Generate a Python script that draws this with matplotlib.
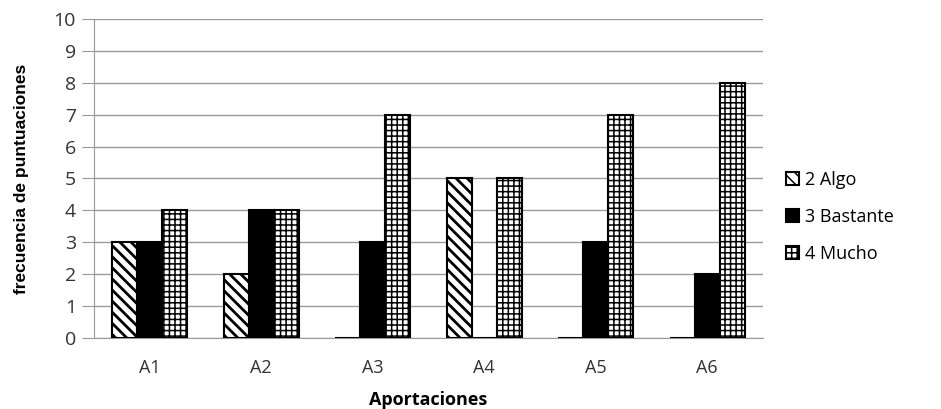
import numpy as np
import matplotlib
matplotlib.use("Agg")
import matplotlib.pyplot as plt

categorias = ["A1", "A2", "A3", "A4", "A5", "A6"]
algo = [3, 2, 0, 5, 0, 0]
bastante = [3, 4, 3, 0, 3, 2]
mucho = [4, 4, 7, 5, 7, 8]
series = ["2 Algo", "3 Bastante", "4 Mucho"]

plt.rcParams['font.family'] = ['Open Sans', 'DejaVu Sans']

fig = plt.figure(figsize=(9.41, 4.09), dpi=100)
ax = fig.add_axes([0.0999, 0.1736, 0.711, 0.78])

x = np.arange(len(categorias))
w = 0.224
plt.rcParams['hatch.linewidth'] = 2.0
ax.bar(x - w, algo, w, color="white", edgecolor="black", hatch="\\\\\\", linewidth=1.5, label=series[0], zorder=3)
ax.bar(x, bastante, w, color="black", edgecolor="black", linewidth=1.5, label=series[1], zorder=3)
plt.rcParams['hatch.linewidth'] = 1.1
ax.bar(x + w, mucho, w, color="white", edgecolor="black", hatch="+++", linewidth=1.5, label=series[2], zorder=3)

ax.set_xlim(-0.5, len(categorias) - 0.5)
ax.set_ylim(0, 10)
ax.set_yticks(range(0, 11))
ax.set_xticks(x)
ax.set_xticklabels(categorias)
ax.tick_params(axis="x", length=0, labelsize=13, pad=15, colors="#333333")
ax.tick_params(axis="y", length=9, color="#999999", labelsize=14, pad=4, labelcolor="#333333")
ax.yaxis.grid(True, color="#999999", linewidth=1, zorder=0)
for s in ["top", "right"]:
    ax.spines[s].set_visible(False)
for s in ["left", "bottom"]:
    ax.spines[s].set_color("#999999")

ax.set_xlabel("Aportaciones", fontsize=13, fontweight="bold", labelpad=10)
ax.set_ylabel("frecuencia de puntuaciones", fontsize=12.5, fontweight="bold",
              family=['Liberation Sans Narrow', 'Liberation Sans', 'DejaVu Sans'], labelpad=18)

leg = ax.legend(loc="center left", bbox_to_anchor=(1.01, 0.379), frameon=False,
                fontsize=13, handlelength=0.7, handleheight=0.7, handletextpad=0.35,
                labelspacing=1.05)

fig.savefig("out.png", dpi=100)
